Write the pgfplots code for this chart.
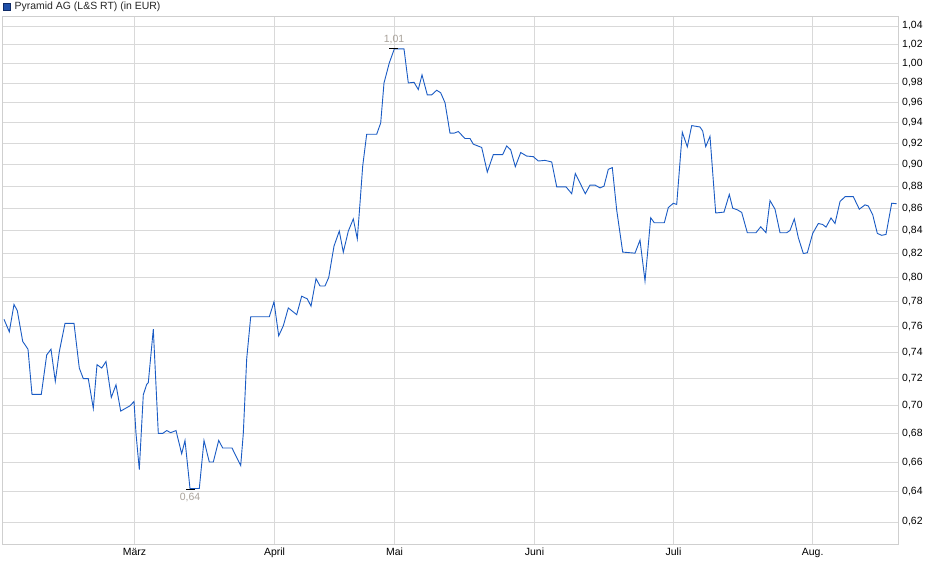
\documentclass[border=0pt]{standalone}
\usepackage{fontspec}
\setmainfont{Liberation Sans}
\usepackage{pgfplots}
\pgfplotsset{compat=1.18}
\definecolor{linecol}{HTML}{1A5BC4}
\definecolor{gridcol}{HTML}{D9D9D9}
\definecolor{framecol}{HTML}{CFCFCF}
\definecolor{annot}{HTML}{A9A29A}
\definecolor{legfill}{HTML}{1F4FA8}
\definecolor{legdraw}{HTML}{0E2A66}
\begin{document}
\begin{tikzpicture}
\useasboundingbox (0,0) rectangle (940bp,579bp);
\fill[white] (0,0) rectangle (940bp,579bp);
\fill[legfill] (3bp,569bp) rectangle (10bp,576bp);
\draw[legdraw,line width=0.8bp] (3bp,569bp) rectangle (10bp,576bp);
\node[anchor=west,inner sep=0pt,font=\fontsize{10.5}{12}\selectfont,text=black!85] at (14.5bp,572.5bp) {Pyramid AG (L\&S RT) (in EUR)};
\begin{axis}[
  at={(2bp,35bp)}, anchor=south west,
  scale only axis, width=896bp, height=528bp,
  xmin=2, xmax=898,
  ymode=log, ymin=0.6059, ymax=1.0509,
  xtick={134.5,274.5,394.5,534.5,673.5,812.7},
  xticklabels={M\"arz,April,Mai,Juni,Juli,Aug.},
  ytick={0.62,0.64,0.66,0.68,0.70,0.72,0.74,0.76,0.78,0.80,0.82,0.84,0.86,0.88,0.90,0.92,0.94,0.96,0.98,1.00,1.02,1.04},
  yticklabels={\mbox{0,62},\mbox{0,64},\mbox{0,66},\mbox{0,68},\mbox{0,70},\mbox{0,72},\mbox{0,74},\mbox{0,76},\mbox{0,78},\mbox{0,80},\mbox{0,82},\mbox{0,84},\mbox{0,86},\mbox{0,88},\mbox{0,90},\mbox{0,92},\mbox{0,94},\mbox{0,96},\mbox{0,98},\mbox{1,00},\mbox{1,02},\mbox{1,04}},
  yticklabel pos=right,
  grid=major,
  major grid style={gridcol, line width=0.9bp},
  axis line style={framecol, line width=0.9bp},
  major tick length=0pt, minor tick length=0pt,
  tick label style={font=\fontsize{10.5}{12}\selectfont, text=black},
  yticklabel style={anchor=west, inner sep=0pt, xshift=4bp},
  xticklabel style={anchor=north, inner sep=0pt, yshift=-4bp},
]
\addplot[linecol, line width=0.9bp, mark=none] coordinates {
(4,0.766)(9.3,0.756)(14,0.778)(17.3,0.773)(22.7,0.7485)(28,0.7424)(32,0.7083)(41.3,0.7083)(46.7,0.738)(51,0.7424)(55.3,0.718)(59.3,0.7405)(65,0.7627)(74,0.7627)(79.3,0.728)(83.3,0.72)(88.3,0.72)(93.3,0.698)(97,0.7305)(101.7,0.728)(106,0.733)(111.3,0.706)(116,0.7154)(120.7,0.696)(130,0.6998)(134,0.703)(136,0.68)(139.3,0.6548)(143.3,0.708)(146.7,0.7156)(148.3,0.717)(153.3,0.758)(158.3,0.68)(162.7,0.68)(166.7,0.682)(170.7,0.6805)(176,0.682)(181.7,0.6657)(185,0.675)(190,0.642)(199.3,0.642)(204,0.675)(209.3,0.66)(213.3,0.66)(218.7,0.675)(222.7,0.6697)(232,0.6697)(240.7,0.6575)(243.3,0.68)(246.7,0.735)(250.7,0.768)(269.3,0.768)(274,0.78)(278.7,0.7529)(283.3,0.7608)(288.3,0.7751)(296.7,0.7697)(301.7,0.7847)(307.3,0.7825)(311,0.7765)(316,0.7992)(320,0.7931)(325,0.7931)(328.7,0.80)(334,0.8267)(339.3,0.8397)(343.3,0.8214)(348.3,0.8397)(353.3,0.8504)(357.3,0.833)(360,0.8645)(362.7,0.8987)(366.7,0.929)(376.7,0.929)(380.7,0.94)(384,0.98)(389.3,1.0007)(394.3,1.0154)(404,1.0154)(408.3,0.98)(414,0.9807)(418.3,0.9733)(422,0.9883)(427.3,0.9679)(431.7,0.9679)(436.7,0.9726)(440.7,0.97)(445,0.96)(450,0.93)(454,0.93)(458.3,0.9316)(465,0.9248)(470,0.9248)(473.3,0.9194)(481.7,0.9162)(487.3,0.893)(493.3,0.9095)(502.7,0.9095)(506.7,0.9177)(510.7,0.914)(515.3,0.898)(520.7,0.9114)(526.7,0.9081)(533.3,0.9075)(538.3,0.9034)(545,0.904)(551.7,0.9025)(556.7,0.8794)(566,0.8794)(571.7,0.8731)(575.3,0.8917)(585.3,0.8731)(590,0.881)(595,0.881)(600,0.8784)(604,0.88)(608.3,0.8956)(612.3,0.8972)(616.7,0.8583)(622.7,0.8215)(635,0.8206)(640,0.8318)(645,0.7973)(647.7,0.822)(650.7,0.8515)(654.3,0.847)(664.3,0.847)(668.3,0.8606)(673.3,0.8644)(676.7,0.8634)(682.3,0.9309)(687.3,0.9168)(691.7,0.9374)(700,0.936)(702.7,0.932)(705.7,0.917)(710,0.927)(715.7,0.8557)(724,0.8565)(729.3,0.8725)(732.7,0.86)(737.3,0.8586)(741.7,0.8562)(747.3,0.8383)(756,0.8383)(760.7,0.8435)(766,0.8383)(770,0.8669)(775,0.8591)(780,0.8383)(786.7,0.8383)(790,0.8403)(794.3,0.8504)(798.3,0.834)(803.3,0.8203)(807.3,0.8209)(812.7,0.8377)(818.3,0.8464)(822.7,0.8455)(826,0.8432)(831,0.8513)(835,0.8464)(840,0.866)(845,0.8704)(853.3,0.8704)(859.3,0.8591)(865,0.863)(868.3,0.862)(872.7,0.8542)(877.3,0.8377)(881.7,0.836)(886,0.8368)(891.7,0.8645)(896.7,0.864)
};
\addplot[black, line width=1.2bp, mark=none] coordinates {(389,1.0161)(398,1.0161)};
\addplot[black, line width=1.2bp, mark=none] coordinates {(186,0.6415)(195,0.6415)};
\node[text=annot, font=\fontsize{10.5}{12}\selectfont, inner sep=0pt] at (axis cs:394,1.0249) {1,01};
\node[text=annot, font=\fontsize{10.5}{12}\selectfont, inner sep=0pt] at (axis cs:190,0.6357) {0,64};
\end{axis}
\end{tikzpicture}
\end{document}
